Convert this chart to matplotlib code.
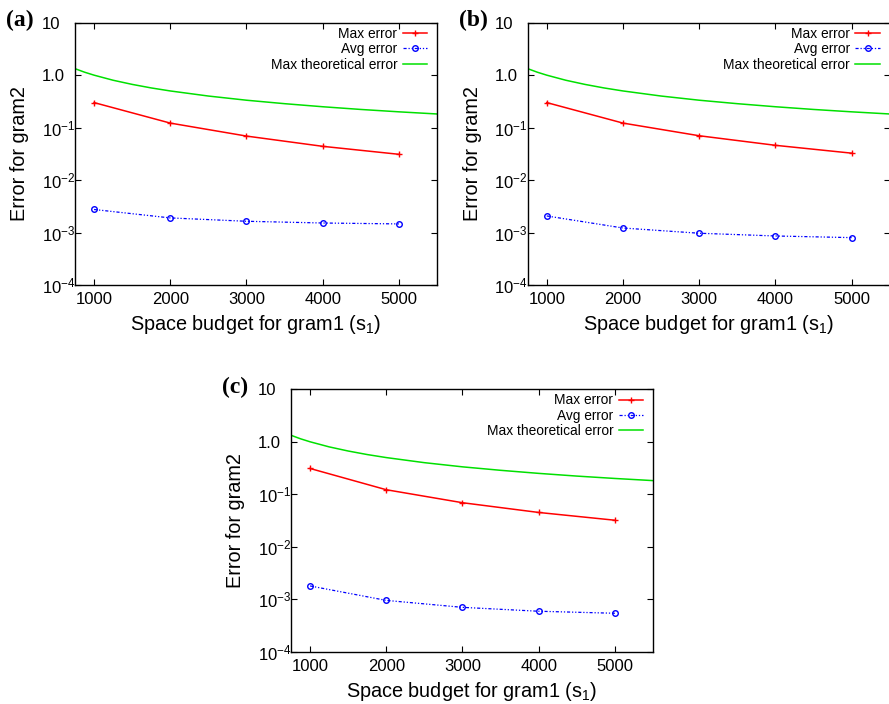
import matplotlib
matplotlib.use("Agg")
import matplotlib.pyplot as plt
from matplotlib.ticker import FixedLocator, NullLocator

plt.rcParams['font.family'] = ['Liberation Sans', 'DejaVu Sans']
plt.rcParams['mathtext.default'] = 'regular'

# space budget for gram1
budgets = [1000, 2000, 3000, 4000, 5000]

# measured errors per panel
max_err_a = [0.30, 0.122, 0.069, 0.044, 0.031]
avg_err_a = [0.00275, 0.0019, 0.00164, 0.00152, 0.00146]

max_err_b = [0.30, 0.122, 0.070, 0.046, 0.0326]
avg_err_b = [0.00207, 0.00122, 0.00097, 0.00086, 0.00080]

max_err_c = [0.31, 0.122, 0.069, 0.045, 0.032]
avg_err_c = [0.00179, 0.00095, 0.00070, 0.00059, 0.00054]

# theoretical bound (same curve in every panel)
theo_x = [750, 875, 1000, 1250, 1500, 1750, 2000, 2500, 3000, 3500, 4000, 4500, 5000, 5500]
theo_y = [1.33, 1.14, 1.0, 0.80, 0.667, 0.571, 0.50, 0.40, 0.333, 0.286, 0.25, 0.222, 0.20, 0.182]

y_ticks = [1e-4, 1e-3, 1e-2, 1e-1, 1.0, 10.0]
y_tick_labels = ['10$^{-4}$', '10$^{-3}$', '10$^{-2}$', '10$^{-1}$', '1.0', '10']
x_ticks = [1000, 2000, 3000, 4000, 5000]

panels = [
    ('(a)', max_err_a, avg_err_a),
    ('(b)', max_err_b, avg_err_b),
    ('(c)', max_err_c, avg_err_c),
]

W, H = 889, 704
fig = plt.figure(figsize=(W / 100, H / 100), dpi=100)

# axes boxes in pixels: left, top, right, bottom
boxes = [
    (75, 22.7, 437, 285),
    (527.7, 22.7, 889.7, 285),
    (291, 389.3, 653, 651.7),
]

for (tag, max_err, avg_err), (l, t, r, b) in zip(panels, boxes):
    ax = fig.add_axes([l / W, 1 - b / H, (r - l) / W, (b - t) / H])
    ax.plot(budgets, max_err, color='#ff0000', lw=1.1, marker='+', ms=5,
            mew=1.0, label='Max error')
    ax.plot(budgets, avg_err, color='#0000ff', lw=0.9,
            linestyle=(0, (2.5, 1.5, 1, 1.5, 1, 1.5)), marker='o', ms=4,
            mfc='none', mew=1.0, label='Avg error')
    ax.plot(theo_x, theo_y, color='#00e000', lw=1.1, label='Max theoretical error')

    ax.set_yscale('log')
    ax.set_xlim(750, 5500)
    ax.set_ylim(1e-4, 10)
    ax.xaxis.set_major_locator(FixedLocator(x_ticks))
    ax.yaxis.set_major_locator(FixedLocator(y_ticks))
    ax.yaxis.set_minor_locator(NullLocator())
    ax.set_yticklabels(y_tick_labels)
    ax.tick_params(direction='in', length=4, width=0.8, top=True, right=True,
                   labelsize=12, colors='black')
    ax.tick_params(axis='y', pad=24)
    ax.tick_params(axis='x', pad=5)
    for lbl in ax.get_yticklabels():
        lbl.set_horizontalalignment('left')
    for sp in ax.spines.values():
        sp.set_linewidth(1.0)

    ax.set_xlabel('Space budget for gram1 (s$_1$)', fontsize=14.3, labelpad=4.5)
    ax.set_ylabel('Error for gram2', fontsize=14.3, labelpad=9)

    ax.legend(loc='upper right', bbox_to_anchor=(0.985, 1.0), frameon=False,
              markerfirst=False, numpoints=1, fontsize=9.9, handlelength=1.8,
              handletextpad=0.4, labelspacing=0.1, borderaxespad=0.1,
              borderpad=0.2)

    fig.text((l - 69) / W, 1 - (t - 2) / H, tag, fontsize=17, fontweight='bold',
             family=['Liberation Serif'], ha='left', va='center')

fig.savefig('out.png', dpi=100)
